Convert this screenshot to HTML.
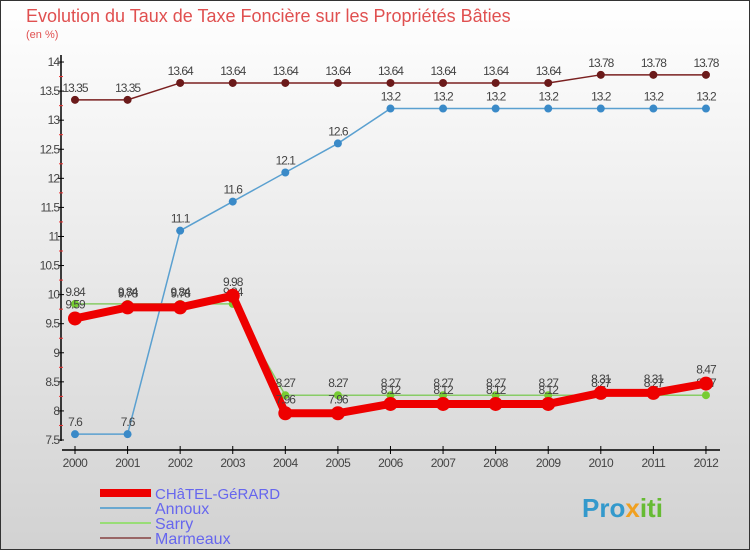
<!DOCTYPE html>
<html><head><meta charset="utf-8"><style>
body{margin:0}
#wrap{width:750px;height:550px;position:relative;overflow:hidden;font-family:"Liberation Sans",sans-serif}
</style></head><body>
<div id="wrap">
<svg id="svg" width="750" height="550" xmlns="http://www.w3.org/2000/svg">
<defs><linearGradient id="bg" x1="0" y1="0" x2="0" y2="1"><stop offset="0" stop-color="#ffffff"/><stop offset="1" stop-color="#d2d2d2"/></linearGradient></defs>
<rect x="0.5" y="0.5" width="749" height="549" fill="url(#bg)" stroke="#333"/>
<text x="26" y="22" font-size="18" fill="#e05050">Evolution du Taux de Taxe Foncière sur les Propriétés Bâties</text>
<text x="26" y="38" font-size="11" fill="#e05050">(en %)</text>
<g id="axes"></g><g id="series"></g><g id="legend"></g>
<text x="582" y="517" font-size="26" font-weight="bold" fill="#3399cc">Pro<tspan fill="#f0a020">x</tspan><tspan fill="#66bb33">iti</tspan></text>
</svg></div>
<script>
const years=["2000","2001","2002","2003","2004","2005","2006","2007","2008","2009","2010","2011","2012"];
const chatel=[9.59,9.78,9.78,9.98,7.96,7.96,8.12,8.12,8.12,8.12,8.31,8.31,8.47];
const annoux=[7.6,7.6,11.1,11.6,12.1,12.6,13.2,13.2,13.2,13.2,13.2,13.2,13.2];
const sarry=[9.84,9.84,9.84,9.84,8.27,8.27,8.27,8.27,8.27,8.27,8.27,8.27,8.27];
const marmeaux=[13.35,13.35,13.64,13.64,13.64,13.64,13.64,13.64,13.64,13.64,13.78,13.78,13.78];
const yTicks=["7.5","8","8.5","9","9.5","10","10.5","11","11.5","12","12.5","13","13.5","14"];
const NS="http://www.w3.org/2000/svg";
const X=i=>75+i*52.58, Y=v=>440-(v-7.5)*58.15;
function mk(t,a,p){const e=document.createElementNS(NS,t);for(const k in a)e.setAttribute(k,a[k]);p.appendChild(e);return e;}
const ax=document.getElementById('axes');
let e=mk('line',{x1:61,y1:55,x2:61,y2:441,stroke:'#000','stroke-width':1.5},ax);

e=mk('line',{x1:62,y1:450,x2:720,y2:450,stroke:'#000','stroke-width':1.5},ax);

yTicks.forEach((t,i)=>{const v=parseFloat(t),y=Y(v);
 mk('line',{x1:58,y1:y,x2:64,y2:y,stroke:'#000'},ax);
 if(i<yTicks.length-1)mk('line',{x1:59,y1:Y(v+0.25),x2:63,y2:Y(v+0.25),stroke:'#e33'},ax);
 const tx=mk('text',{x:59,y:y+4,'font-size':12,fill:'#444','text-anchor':'end','letter-spacing':'-1'},ax);tx.textContent=t;
 });
years.forEach((t,i)=>{mk('line',{x1:X(i),y1:446,x2:X(i),y2:454,stroke:'#000'},ax);
 const tx=mk('text',{x:X(i),y:467,'font-size':12,fill:'#444','text-anchor':'middle','letter-spacing':'-0.5'},ax);tx.textContent=t;
 });
const sg=document.getElementById('series');
function series(name,vals,col,w,r,fill,labelDy){const g=mk('g',{},sg);
 
 mk('polyline',{points:vals.map((v,i)=>X(i)+','+Y(v)).join(' '),fill:'none',stroke:col,'stroke-width':w},g);
 vals.forEach((v,i)=>{const c=mk('circle',{cx:X(i),cy:Y(v),r:r,fill:fill},g);
  
  const t=mk('text',{x:X(i),y:Y(v)+labelDy,'font-size':12,fill:'#444','text-anchor':'middle','letter-spacing':'-1'},g);t.textContent=String(v);});}
series('marmeaux',marmeaux,'#7a2020',1.5,4,'#6b1a1a',-8);
series('annoux',annoux,'#5aa0d0',1.5,4,'#3a8ac8',-8);
series('sarry',sarry,'#88cc66',1.5,4,'#77cc33',-8);
series('chatel-gerard',chatel,'#ee0000',8,7,'#ee0000',-10);
const lg=document.getElementById('legend');
const items=[["CHâTEL-GéRARD","#ee0000",8,15],["Annoux","#6aa8d0",2,16],["Sarry","#99dd77",2,16],["Marmeaux","#996666",2,16]];
items.forEach((it,i)=>{const y=493+i*15;
 const l=mk('line',{x1:100,y1:y,x2:151,y2:y,stroke:it[1],'stroke-width':it[2]},lg);
 
 const t=mk('text',{x:155,y:y+6,'font-size':it[3],fill:'#6666ee'},lg);t.textContent=it[0];
 });
</script></body></html>
